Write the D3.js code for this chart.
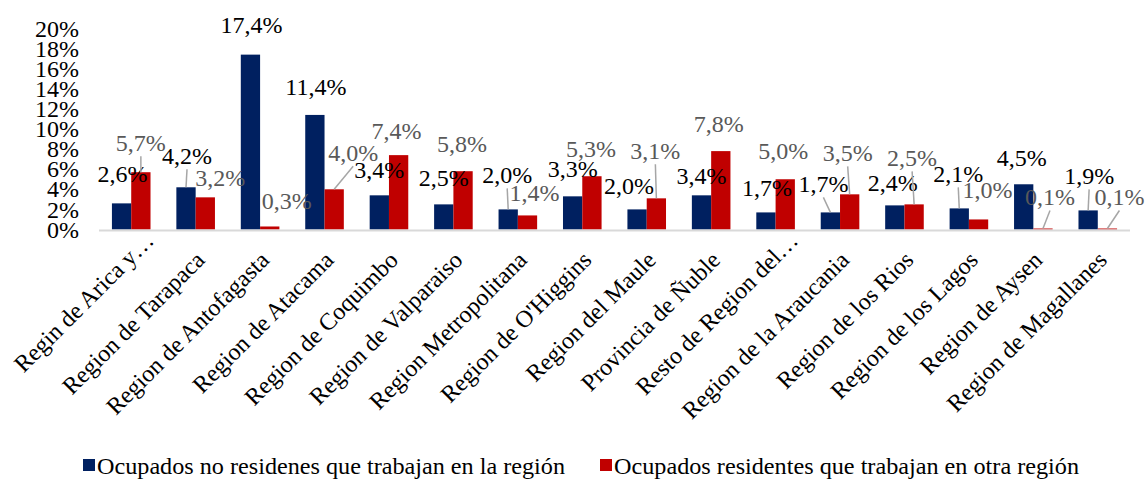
<!DOCTYPE html>
<html>
<head>
<meta charset="utf-8">
<script src="https://cdn.jsdelivr.net/npm/d3@7"></script>
<style>
  body { margin: 0; background: #fff; }
</style>
</head>
<body>
<svg width="1148" height="479" font-family="Liberation Serif, Times New Roman, serif"></svg>

<script>
// categories and the two series (share of employed people, in %)
var regions = [
  "Regin de Arica y…", "Region de Tarapaca", "Region de Antofagasta", "Region de Atacama",
  "Region de Coquimbo", "Region de Valparaiso", "Region Metropolitana", "Region de O'Higgins",
  "Region del Maule", "Provincia de Ñuble", "Resto de Region del…", "Region de la Araucania",
  "Region de los Rios", "Region de los Lagos", "Region de Aysen", "Region de Magallanes"
];
var noResidentes = [2.6, 4.2, 17.4, 11.4, 3.4, 2.5, 2.0, 3.3, 2.0, 3.4, 1.7, 1.7, 2.4, 2.1, 4.5, 1.9];
var residentesOtra = [5.7, 3.2, 0.3, 4.0, 7.4, 5.8, 1.4, 5.3, 3.1, 7.8, 5.0, 3.5, 2.5, 1.0, 0.1, 0.1];
var seriesNames = [
  "Ocupados no residenes que trabajan en la región",
  "Ocupados residentes que trabajan en otra región"
];
var yTicks = [0, 2, 4, 6, 8, 10, 12, 14, 16, 18, 20];

// label nudges (moved by hand in the original), [dx, dy, leader]
var blueNudge = [[1,-30,0],[1,-32,1],[1,-30,0],[1,-28,0],[0,-26,0],[0,-27,0],[-1,-35,1],[0,-28,0],
                 [-8,-24,0],[0,-20,0],[1,-25,0],[-7,-29,1],[-2,-23,0],[-1,-35,1],[-2,-27,0],[1,-35,1]];
var redNudge = [[0,-30,1],[15,-20,0],[17,-26,0],[19,-37,1],[-2,-25,0],[-1,-28,0],[7,-23,0],[-1,-28,0],
                [-1,-48,1],[-2,-28,0],[-2,-29,0],[-2,-42,1],[-2,-47,1],[9,-30,0],[7,-32,1],[12,-32,1]];

var colors = ["#002060", "#c00000"];
var labelColors = ["#000000", "#595959"];
var serif = "'Liberation Serif', 'Times New Roman', serif";

var svg = d3.select("svg");

var x = d3.scaleBand().domain(regions).range([99, 1130]);
var xs = d3.scaleBand().domain([0, 1]).range([0, x.bandwidth()]).paddingOuter(0.67);
var y = d3.scaleLinear().domain([0, 20]).range([229.5, 28.5]);

var es = d3.formatLocale({decimal: ",", thousands: ".", grouping: [3], currency: ["", ""]});
var fmt = es.format(".1f");

// y axis, labels only
var yAxis = svg.append("g")
    .attr("transform", "translate(85,0)")
    .call(d3.axisLeft(y).tickValues(yTicks).tickSize(0).tickPadding(6)
      .tickFormat(function(d) { return d + "%"; }));
yAxis.attr("font-family", null).attr("font-size", null);
yAxis.select(".domain").remove();
yAxis.selectAll("text")
    .style("font-family", serif)
    .style("font-size", "24px")
    .style("fill", "#000");

// bars
var data = [noResidentes, residentesOtra];
var nudges = [blueNudge, redNudge];

data.forEach(function(vals, s) {
  svg.append("g").selectAll("rect")
      .data(vals)
    .enter().append("rect")
      .attr("x", function(d, i) { return x(regions[i]) + xs(s); })
      .attr("y", function(d) { return y(d); })
      .attr("width", xs.bandwidth())
      .attr("height", function(d) { return y(0) - y(d); })
      .style("fill", colors[s]);
});

// baseline
svg.append("line")
    .attr("x1", 99).attr("x2", 1130)
    .attr("y1", y(0) + 1).attr("y2", y(0) + 1)
    .style("stroke", "#d9d9d9").style("stroke-width", 2);

// data labels and leader lines
data.forEach(function(vals, s) {
  var g = svg.append("g");
  vals.forEach(function(d, i) {
    var bx = x(regions[i]) + xs(s) + xs.bandwidth() / 2;
    var by = y(d);
    var n = nudges[s][i];
    var lx = bx + n[0], ly = by + n[1];
    if (n[2]) {
      g.append("line")
          .attr("x1", lx).attr("y1", ly + 14)
          .attr("x2", bx).attr("y2", by)
          .style("stroke", "#a6a6a6").style("stroke-width", 1.5);
    }
    g.append("text")
        .attr("x", lx).attr("y", ly)
        .attr("dy", "0.35em")
        .attr("text-anchor", "middle")
        .style("font-family", serif)
        .style("font-size", "24px")
        .style("fill", labelColors[s])
        .text(fmt(d) + "%");
  });
});

// rotated category labels
svg.append("g").selectAll("text")
    .data(regions)
  .enter().append("text")
    .attr("transform", function(d) {
      var c = x(d) + x.bandwidth() / 2;
      var cut = d.slice(-1) === "…";
      return "translate(" + (c + (cut ? 24 : 10.5)) + "," + (cut ? 242 : 261.5) + ") rotate(-45)";
    })
    .attr("text-anchor", "end")
    .style("font-family", serif)
    .style("font-size", "24px")
    .style("fill", "#000")
    .text(function(d) { return d; });

// legend
var legendX = [83, 600];
var legendW = [468, 465];
seriesNames.forEach(function(name, s) {
  svg.append("rect")
      .attr("x", legendX[s]).attr("y", 459)
      .attr("width", 12).attr("height", 12)
      .style("fill", colors[s]);
  svg.append("text")
      .attr("x", legendX[s] + 14).attr("y", 474)
      .attr("textLength", legendW[s])
      .attr("lengthAdjust", "spacingAndGlyphs")
      .style("font-family", serif)
      .style("font-size", "24px")
      .style("fill", "#000")
      .text(name);
});
</script>
</body>
</html>
